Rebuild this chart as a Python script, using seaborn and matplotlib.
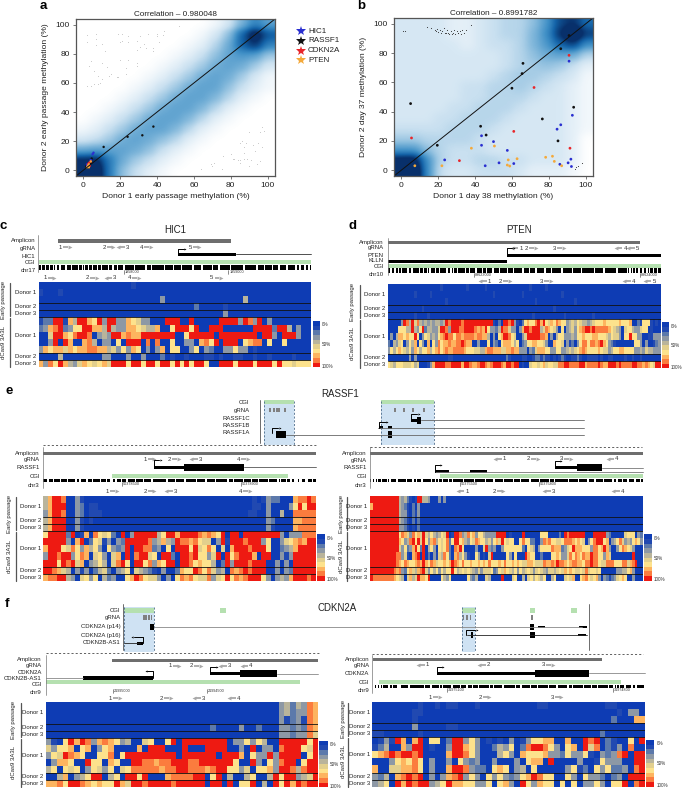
import numpy as np
import pandas as pd
import seaborn as sns
import matplotlib.pyplot as plt
from matplotlib.colors import ListedColormap

sns.set_theme(style="ticks")
plt.rcParams['font.family'] = ['Liberation Sans', 'DejaVu Sans']

W, H = 685, 788

dens_a = [
    [0,0,0,0,0,0,0,0,0,0,1,3,8,13,10],
    [0,0,0,0,0,0,0,0,0,1,3,7,16,24,17],
    [0,0,0,0,0,0,0,0,1,2,5,9,16,20,13],
    [0,0,0,0,0,0,0,1,2,4,7,10,11,10,6],
    [0,0,0,0,0,0,1,2,4,6,9,10,9,6,3],
    [0,0,0,0,0,1,2,4,6,9,10,9,6,3,1],
    [0,0,0,0,1,2,4,6,9,10,10,7,4,2,1],
    [0,0,0,1,2,4,6,9,10,10,8,5,2,1,0],
    [0,0,1,2,4,6,9,10,10,8,5,2,1,0,0],
    [0,1,2,4,6,9,10,10,8,5,2,1,0,0,0],
    [1,2,4,6,9,10,10,8,5,2,1,0,0,0,0],
    [3,4,6,9,10,9,7,5,2,1,0,0,0,0,0],
    [9,10,10,10,9,7,4,2,1,0,0,0,0,0,0],
    [21,22,14,9,6,4,2,1,0,0,0,0,0,0,0],
    [24,25,14,7,4,2,1,0,0,0,0,0,0,0,0],
]
dens_b = [
    [3,3,3,3,2,2,3,4,5,5,7,11,18,20,15],
    [3,3,3,3,2,2,3,4,5,5,8,12,20,27,19],
    [3,3,3,3,3,2,3,4,4,5,8,11,16,19,12],
    [3,3,3,3,3,3,3,3,4,5,7,9,10,9,5],
    [3,3,3,3,3,3,3,3,4,5,6,7,6,4,2],
    [3,3,3,3,3,3,3,4,5,6,6,5,4,3,1],
    [3,3,3,3,3,4,4,5,5,6,5,4,3,2,1],
    [3,3,3,3,3,4,4,5,5,5,4,3,3,2,1],
    [3,3,3,3,4,4,5,5,5,4,3,3,3,2,1],
    [3,3,3,4,4,5,5,5,4,3,3,3,3,2,1],
    [4,4,4,4,5,5,5,4,3,3,3,3,3,2,1],
    [6,6,5,5,5,5,4,3,3,3,3,3,3,2,0],
    [11,11,7,5,4,4,4,3,3,3,3,3,3,2,0],
    [22,23,12,5,4,4,5,5,4,4,3,3,3,2,0],
    [26,27,12,4,3,3,4,4,4,3,2,2,2,1,0],
]

# scatter points, panel a
a_sparse_x = [2,2,7,7,7,10,12,19,21,24,21,20,24,29,31,35,40,40,43,44,52,41,31,34,33,38,38,29,20,24,10,4,3,29,29,6,8,15,14,18,19,13,23,23,10,2,4,6,8,9,
              64,69,70,71,75,76,80,81,82,84,85,85,85,86,87,87,87,88,89,90,90,91,92,93,94,95,96,96,97,97,98]
a_sparse_y = [93,88,94,90,86,87,82,94,94,92,89,88,88,89,92,94,94,92,93,96,99,88,85,84,87,84,82,83,76,76,74,75,72,74,72,68,65,66,65,64,64,71,70,66,63,58,58,59,59,60,
              1,4,3,5,1,10,11,8,8,7,7,5,19,20,16,12,8,19,8,3,26,7,17,13,4,19,6,26,16,30,27]
a_gene = ['RASSF1']*11 + ['HIC1']*6 + ['CDKN2A']*4 + ['PTEN']*5
a_x = [11,24,32,38,2,3,1.5,2.5,4,4.5,3, 5,5.5,4,2,3,2, 3,3.5,4,2.5, 2.5,3,3,4,2]
a_y = [16,23,24,30,3,4,2.5,2,5,8,5, 11,12,7,4,5,3, 5,3,6,4, 3,4,2,6,2]

# scatter points, panel b
b_sparse_x = [1,2,14,16,18,19,19.5,20,21,21.5,22,23,23.5,24,25,25.5,26,27,27.5,28,28.5,29,30,30.5,31,32,32.5,33,34,35,38,95,96,98,94]
b_sparse_y = [95,95,98,97,96,95,96.5,94.5,96,94,95,97,94,93.5,96,94,93,95,93,94,96,93,95,93.5,94,95,93,96,94,96,99,2,3,5,1]
b_gene = ['RASSF1']*12 + ['HIC1']*16 + ['CDKN2A']*6 + ['PTEN']*12
b_x = [5,19.5,43,46,60,65.5,66,76.5,86.5,91,85,93.5,
       23.5,43.5,43.5,50,45.5,53,57.5,61,84.5,86.5,92.8,91,90.5,92,86,92.3,
       5.5,31.5,61,72,91,91.5,
       7.3,22,38,50.5,57.5,58,58.8,62.8,78.3,82,83,87]
b_y = [45.5,17,30,24,56,66,73,35,83,92,20,43,
       7,23.5,17,19.5,3,5,13.5,4.5,28,31,37.5,74.5,5,7.5,4,2.5,
       22,6.5,26.5,56.5,78.5,15,
       3,3,15,16.5,3.5,7,2.8,7.8,8.8,9.5,6,3]

gene_names = ['HIC1', 'RASSF1', 'CDKN2A', 'PTEN']
gene_cols = {'HIC1': '#2a2fd0', 'RASSF1': '#111111', 'CDKN2A': '#e8262a', 'PTEN': '#f4a93a'}

# methylation per CpG, one digit per cell (0 = 0%, 9 = 100%)
hic1_rows = [
    "0000000000 0000000001 0000000000 0000000000 0000000000 000000",
    "1000100000 0000000000 0000000000 0000000000 0000000000 000000",
    "0000000000 0000000000 0000030000 0000000000 0040000000 000000",
    "0000000000 0000000000 0000000000 0020000010 0000000000 000000",
    "0000000000 0000000000 0000000000 0000000030 0000000000 000000",
    "1229917499 7693993376 5330009990 0900000999 9398390300 000000",
    "2378923669 9774943377 6544700699 9690099900 0000999929 940300",
    "0059976899 8034399787 7999999900 6999990999 9999909930 999300",
    "0039097007 8403306099 9080800600 3307869099 9067880600 600000",
    "3767757677 8877453637 6030370660 0360320033 6330100000 000000",
    "0000400000 0003300030 0300020100 1000110100 1100100100 001000",
    "7386974357 6567599969 9699699696 9699600999 6999699969 665666",
]
pten_rows = [
    "0000000000 0000000000 1000000000 1000000100 0000000000 0000100000 1000000000 0000000000 0",
    "0000000000 1000001000 0000000000 0000000000 1000000000 0100000000 0000001000 0000000000 0",
    "0000000000 0000000000 0010000000 0000000000 0000000000 0000001000 0000000000 0100000000 0",
    "0000000000 0001000000 0000000000 0000000000 0000000000 0000000000 0001000000 0000000000 0",
    "0000000000 1000010000 0000000000 0000000000 0000000000 0000010000 0000000100 0000000010 0",
    "0000039849 5843434344 3498999989 9999999999 1020998931 0267668979 6576876634 5465443456 6676666676 6670021666 1010",
    "0000666449 4369244335 9983999889 9998787963 3249885330 3799899945 8765306034 5367899898 8888765430 5664335660 1000",
    "0304776766 9603653436 7898868878 8887887740 3067998650 0359999988 7030466333 4366766677 6665465530 6696633001 1333",
    "2043560364 7063070638 6778778898 7700300060 3206777646 0236677665 3007665031 2036886887 8976321000 0000663030 0123",
    "3646765463 7646674678 6787788887 6665544788 7775577877 3330325777 6633663345 4567876666 7655346677 6666334354 4333",
    "0000000030 3000000000 0001100000 0000000000 0000021000 0110012212 1101012100 1121001111 0100110000 1001001000 0000",
    "6546665556 4500013799 9988999979 9877899878 9998799899 0100566567 5665588998 8889978888 9877999898 8889988787 6599",
]
rassf_l_rows = [
    "4799800310 0000000000 0000000000 0000000000 0000001013 2200078898",
    "4799900320 1100000000 0000000000 0000000000 0000001103 0000369699",
    "3799800320 1110000000 0000000000 0000000000 0000011003 0040088888",
    "4799900310 1000000000 0000000000 0000000000 0000000003 2000077888",
    "4799900310 0000000000 0000000000 0000000000 0000000003 1000078888",
    "6999929017 0865620903 9999946997 9999878769 0990999999 9930333888",
    "9999930790 2651303299 9998347439 8878655039 1999899936 0035678799",
    "7999658637 4630632390 9988230609 9969568605 0799989996 0023479999",
    "3998993687 0563057090 8995609920 9989663590 9689997099 0031399999",
    "9996989570 3464058960 9968376990 9986766402 9399989990 0303099999",
    "9987540313 0245203460 5432103002 7669868534 0878989990 0303299999",
    "7889943056 3604230067 9865530306 8786558356 9687899963 0343799989",
]
rassf_r_rows = [
    "9999999999 9434210199 4430003030 0",
    "7999999999 9432102030 0",
    "9999999999 9433102130 0",
    "9999999999 9432102020 0",
    "9999999999 9332101020 0",
    "9999999999 9687538675 9546434659 0199834867 3664333399 9901000090 0000066600 0020989999 9900099999 3200000566 6032",
    "9999999999 9763489695 9637846568 2699674365 8766453675 9656600686 6220038786 6556888767 6503689996 7034685343 6763",
    "9999999999 9536237962 9046306568 2087960000 3005932300 3666666620 6540366668 7772356977 7666388679 7300368765 3000",
    "9999999999 8835107890 9020315486 2078463100 6301059000 0063060009 7660020006 6763358687 6877988663 7500000000 9000",
    "9999999999 8768766787 9768756676 7987686676 6767686667 6866767655 7765558778 7988767887 7688988655 8886668857 8900",
    "9999999998 7832675478 9536463646 6964565654 3535556236 5765463645 6535654355 4565767655 6585665600 0000334467 3000",
    "9888888887 6540574597 7690000643 6000000632 4000540000 9000560040 5646546004 6000565700 6786567303 2123567600 3000",
]
cdkn_l_rows = [
    "0000000000 0000000000 0000000000 0000000000 03424387",
    "0000000000 0000000000 0000000000 0000000000 03423387",
    "0000000000 0000000000 0000000000 0000000000 03123187",
    "0000000000 0000000000 0000000002 0000300200 03323287",
    "0000000000 0000000000 0000000000 0000000000 03323385",
    "3106979837 8763400560 0690999999 9903363640 09999969",
    "5366706703 6700007099 9000900099 9900309033 08999659",
    "3659876006 6806999999 9990999999 0999706339 39999069",
    "0377600966 0760099887 8899988999 9996009306 38990699",
    "4606560365 3605688888 7889988878 9966350667 39984899",
    "0047034699 0460996900 0788889906 9040046004 96993459",
    "7786998767 6697599899 9989999909 9090669040 96979899",
]
cdkn_r_rows = [
    "0000000010 0101100010 0000000001 1000000000 01100000",
    "0000000110 0000000000 0000000000 0000000000 00010330",
    "0000000100 0000000000 0000000000 0000000000 00200077",
    "0000000300 0001100000 0000000000 0000000000 00000000",
    "1100000010 0000000000 0000000000 0000000000 20000000",
    "0131970790 6602993630 1010301366 7700700989 02100609",
    "1240073990 1003997630 0243602899 8630670958 02130800",
    "6789899890 0007998630 0046307666 7332633610 32389099",
    "0003676860 3003063230 0300030677 0900003001 63330099",
    "7005577860 3007998322 0676034060 0000361206 36223089",
    "3240789890 3037893630 6363236798 6600630633 20230999",
    "3460979899 3469776633 6067309637 6606060336 30669089",
]

# CpG barcodes under the gene models
hic1_cpg = ("1101101101101011011100111011110110101101101110110111101100110111101111111011111111011101111111110"
            "1111110111110111111110111111011111110111101111111101111111110111111111011111011111011110111110111111011011101101")
pten_cpg = ("1101101101011110110111110110110101110110111110110101101111101101111011110110111101111011111011110"
            "1111110111101111011111101111011111110111111101111110111111111011111101111111110111111101010101101101101011011011")
rassf_l_cpg = ("1110111011110111101111101101111011101111101110110011011101110111110111110111110111111111101111101"
               "1111101111111011111101111110111111110111011111101111101111011111101111110101110110010001001100111011")
rassf_r_cpg = ("1010101101110101111011111101110010111011111101101011011101101111111011111110111111101111101111110"
               "1111110111101111110111111011111101110111111111011111101111110111101111101111110110111011101111011101")
cdkn_r_cpg = ("0010101011100101110001111101111111111011110111110101111110111110111101110111011111110110111111011"
              "1111110111011111101111011111110111110111111101101111111011111011101111111011101010111011110110111110")

# guides: label, position in % of the track, direction
hic1_guides_top = [('1', 8, 1), ('2', 24, 1), ('3', 32.7, -1), ('4', 37.8, 1), ('5', 55.6, 1)]
hic1_guides_low = [('1', 2.4, 1), ('2', 18, 1), ('3', 28, -1), ('4', 33.4, 1), ('5', 63.6, 1)]
pten_guides_top = [('1', 48.9, -1), ('2', 50.9, 1), ('3', 61, 1), ('4', 87, -1), ('5', 91.6, -1)]
pten_guides_low = [('1', 37.2, -1), ('2', 41.4, 1), ('3', 56.4, 1), ('4', 90, -1), ('5', 97.6, -1)]
rassf_l_guides_top = [('1', 37.3, 1), ('2', 46.3, 1), ('3', 57.7, -1), ('4', 71.6, 1)]
rassf_l_guides_low = [('1', 23.6, 1), ('2', 37.3, 1), ('3', 48.4, -1), ('4', 72.4, 1)]
rassf_r_guides_top = [('1', 49.3, -1), ('2', 58.2, 1), ('3', 70.3, 1), ('4', 90.5, -1)]
rassf_r_guides_low = [('1', 35.5, -1), ('2', 45.5, 1), ('3', 67.2, -1), ('4', 92.5, -1)]
cdkn_l_guides_top = [('1', 45.6, 1), ('2', 53.5, 1), ('3', 67.4, -1), ('4', 75.3, -1)]
cdkn_l_guides_low = [('1', 23.8, 1), ('2', 42.4, 1), ('3', 57.8, -1), ('4', 70.7, -1)]
cdkn_r_guides_top = [('1', 20.2, -1), ('2', 42.7, -1), ('3', 62.7, 1)]
cdkn_r_guides_low = [('1', 21.4, 1), ('2', 39.5, 1), ('3', 65.9, 1)]

donor_labels = [('Donor 1', 1.5), ('Donor 2', 3.5), ('Donor 3', 4.5),
                ('Donor 1', 7.5), ('Donor 2', 10.5), ('Donor 3', 11.5)]

levels = ['#0e3cb4', '#2149b1', '#5c79ab', '#8d98a5', '#b9b49b', '#e2cf8d',
          '#fde28c', '#fdb45f', '#fb7c3e', '#ee1a12']
meth_cmap = ListedColormap(levels)
dens_cmap = sns.blend_palette(['#ffffff', '#c9e0f0', '#7fb6da', '#3f8fc6', '#1463a8', '#08306b'], as_cmap=True)
GREEN = '#b5e0b0'
BOX_BLUE = '#cfe2f3'

fig = plt.figure(figsize=(W / 100, H / 100), dpi=100)


def px_axes(x0, y0, x1, y1):
    return fig.add_axes([x0 / W, 1 - y1 / H, (x1 - x0) / W, (y1 - y0) / H])


def scatter_panel(box, dens, sx, sy, gx, gy, genes, title, xl, yl, pt, sparse_s):
    ax = px_axes(*box)
    ax.imshow(dens, extent=(-4, 104, -4, 104), aspect='auto', cmap=dens_cmap,
              vmin=0, vmax=20, interpolation='gaussian')
    sns.scatterplot(x=sx, y=sy, ax=ax, color='#333333', s=sparse_s, linewidth=0, legend=False)
    pts = pd.DataFrame({'x': gx, 'y': gy, 'gene': genes})
    sns.scatterplot(data=pts, x='x', y='y', hue='gene', hue_order=gene_names, palette=gene_cols,
                    ax=ax, s=pt, linewidth=0, legend=False)
    ax.plot([-4, 104], [-4, 104], color='#111111', lw=0.7)
    ax.set_xlim(-4, 104)
    ax.set_ylim(-4, 104)
    ax.set_xticks(range(0, 101, 20))
    ax.set_yticks(range(0, 101, 20))
    ax.tick_params(labelsize=6, length=2.5, width=0.5, pad=2, color='#444444', labelcolor='#222222')
    ax.set_xlabel(xl, fontsize=6.1, labelpad=2.5, color='#222222')
    ax.set_ylabel(yl, fontsize=6.1, labelpad=4.5, color='#222222')
    ax.set_title(title, fontsize=5.9, pad=2.5, color='#222222')
    for s in ax.spines.values():
        s.set_linewidth(0.9)
        s.set_color('#555555')
        s.set_visible(True)
    return ax


scatter_panel((76, 19, 275, 176), dens_a, a_sparse_x, a_sparse_y, a_x, a_y, a_gene,
              'Correlation – 0.980048', 'Donor 1 early passage methylation (%)',
              'Donor 2 early passage methylation (%)', 3, 0.3)
scatter_panel((394, 18, 593, 176), dens_b, b_sparse_x, b_sparse_y, b_x, b_y, b_gene,
              'Correlation – 0.8991782', 'Donor 1 day 38 methylation (%)',
              'Donor 2 day 37 methylation (%)', 4, 0.6)

# overlay in pixel units, for labels and frames
page = fig.add_axes([0, 0, 1, 1], zorder=5)
page.set_xlim(0, W)
page.set_ylim(H, 0)
page.axis('off')


def label(x, y, s, size=4.3, ha='right', rot=0, **kw):
    page.text(x, y, s, fontsize=size, ha=ha, va='center', rotation=rot, color=kw.pop('color', '#222222'), **kw)


for s, x, y in [('a', 43, 6), ('b', 361, 6), ('c', 3, 226), ('d', 353, 226), ('e', 9, 391), ('f', 7, 604)]:
    label(x, y, s, size=9.5, ha='center', fontweight='bold', color='black')
for s, x, y in [('HIC1', 175, 230), ('PTEN', 519, 230), ('RASSF1', 340, 394), ('CDKN2A', 337, 608)]:
    label(x, y, s, size=7, ha='center')

for name, y in zip(gene_names, [31, 40.5, 50.5, 60]):
    page.plot([301], [y], marker='*', ms=7, color=gene_cols[name], mew=0)
    label(308, y, name, size=5.8, ha='left')


def matrix(rows, n):
    rows = [r.replace(' ', '') for r in rows]
    return np.array([[int(c) for c in r.ljust(n, r[-1])[:n]] for r in rows])


def meth_heatmap(rows, n, box, cbar_box, bar_dx=28, text_dx=35):
    ax = px_axes(*box)
    cax = px_axes(*cbar_box)
    sns.heatmap(matrix(rows, n), ax=ax, cmap=meth_cmap, vmin=-0.5, vmax=9.5, cbar_ax=cax,
                xticklabels=False, yticklabels=False, linewidths=0)
    cax.set_yticks([0.2, 4.5, 9.2])
    cax.set_yticklabels(['0%', '50%', '100%'], fontsize=3.3, color='#333333')
    cax.tick_params(length=0, pad=1.5)
    cax.invert_yaxis()
    ax.collections[0].colorbar.outline.set_visible(False)
    for r in [3, 4, 5, 10, 11]:
        ax.axhline(r, color='#111111', lw=0.6)
    x0, y0, x1, y1 = box
    rh = (y1 - y0) / 12
    for s, r in donor_labels:
        label(x0 - 2.5, y0 + r * rh, s)
    page.plot([x0 - bar_dx, x0 - bar_dx], [y0 + 1, y0 + 5 * rh - 1], color='#555555', lw=0.9)
    page.plot([x0 - bar_dx, x0 - bar_dx], [y0 + 5 * rh + 1, y1], color='#555555', lw=0.9)
    label(x0 - text_dx, y0 + 2.5 * rh, 'Early passage', ha='center', rot=90)
    label(x0 - text_dx, y0 + 8.5 * rh, 'dCas9 3A3L', ha='center', rot=90)


def track_axes(x0, x1):
    tr = fig.add_axes([x0 / W, 0, (x1 - x0) / W, 1], zorder=4)
    tr.set_xlim(0, 100)
    tr.set_ylim(H, 0)
    tr.axis('off')
    return tr


def guides(tr, items, y):
    for s, x, d in items:
        tr.text(x, y, s, fontsize=4.3, ha='center', va='center', color='#333333')
        tr.plot([x + d * 1.0, x + d * 2.8], [y, y], color='#a8a8a8', lw=1.3, clip_on=False, solid_capstyle='butt')
        tr.plot([x + d * 3.4], [y], marker='>' if d > 0 else '<', ms=2.8, color='#a8a8a8', mew=0, clip_on=False)


def span(tr, a, b, y, h, color='black'):
    tr.barh(y, b - a, left=a, height=h, color=color, linewidth=0, clip_on=False)


def tss(tr, x, y, d, up=5.5, color='black'):
    tr.plot([x, x, x + d * 2.0], [y, y - up, y - up], color=color, lw=0.7, clip_on=False)
    tr.plot([x + d * 2.4], [y - up], marker='>' if d > 0 else '<', ms=1.5, color=color, mew=0, clip_on=False)


def hline(tr, a, b, y, color='#555555', lw=0.6):
    tr.plot([a, b], [y, y], color=color, lw=lw, clip_on=False)


def barcode(bits, x0, x1, y0, y1):
    ax = px_axes(x0, y0, x1, y1)
    sns.heatmap([[int(c) for c in bits]], ax=ax, cmap=['white', 'black'], vmin=0, vmax=1, cbar=False,
                xticklabels=False, yticklabels=False)


def coord(tr, x, y, s):
    tr.plot([x, x], [y, y + 4], color='#333333', lw=0.4, clip_on=False)
    tr.text(x + 0.3, y + 2, s, fontsize=2.7, ha='left', va='center', color='#333333')


def track_labels(x, items):
    for s, y in items:
        label(x, y, s)


def left_rule(x, y0, y1):
    page.plot([x, x], [y0, y1], color='#777777', lw=0.5)


# c: HIC1
x0, x1 = 38.5, 311
meth_heatmap(hic1_rows, 56, (x0, 281.7, x1, 367.3), (313, 321, 320, 367.3))
tr = track_axes(x0, x1)
span(tr, 7, 70.5, 241, 3.2, '#6e6e6e')
guides(tr, hic1_guides_top, 247.3)
span(tr, 51.3, 72.4, 254.3, 3)
hline(tr, 72.4, 100, 254.3, '#333333')
tss(tr, 51.3, 254.3, 1)
span(tr, 0, 100, 262.3, 3.8, GREEN)
barcode(hic1_cpg, x0, x1, 265.3, 270)
coord(tr, 31.4, 270, '1958000')
coord(tr, 69.7, 270, '1959000')
guides(tr, hic1_guides_low, 277.7)
track_labels(35.5, [('Amplicon', 240.5), ('gRNA', 248), ('HIC1', 256), ('CGI', 263), ('chr17', 271)])
left_rule(x0, 235, 272)

# d: PTEN
x0, x1 = 387.7, 660.7
meth_heatmap(pten_rows, 104, (x0, 284, x1, 368.3), (661.7, 322.3, 669, 368.3))
tr = track_axes(x0, x1)
span(tr, 0, 92.4, 242.7, 3, '#6e6e6e')
guides(tr, pten_guides_top, 248.3)
span(tr, 43.7, 100, 255.3, 3)
tss(tr, 43.7, 255.3, 1, up=7)
span(tr, 0, 43.7, 261, 3)
span(tr, 0, 100, 266, 3.8, GREEN)
barcode(pten_cpg, x0, x1, 268.5, 272.5)
coord(tr, 31.7, 273, '89623000')
coord(tr, 92.4, 273, '89624000')
guides(tr, pten_guides_low, 281)
track_labels(384, [('Amplicon', 242), ('gRNA', 247.5), ('PTEN', 255), ('KLLN', 261), ('CGI', 267), ('chr10', 274)])
left_rule(x0, 238, 275)

# e left: RASSF1 first region
x0, x1 = 43.3, 316
meth_heatmap(rassf_l_rows, 60, (x0, 496, x1, 580.7), (317, 534.3, 325, 580.7), 27, 34)
tr = track_axes(x0, x1)
span(tr, 0, 100, 453.7, 3, '#6e6e6e')
guides(tr, rassf_l_guides_top, 459.3)
hline(tr, 73.6, 100, 467.3)
span(tr, 40.6, 51.6, 467.3, 3)
span(tr, 51.6, 73.6, 467.3, 6.5)
tss(tr, 40.6, 467.3, 1, up=7)
span(tr, 25.2, 89.6, 475.7, 3.8, GREEN)
barcode(rassf_l_cpg, x0, x1, 478.5, 482.3)
coord(tr, 28.7, 482.3, '50378500')
coord(tr, 72.4, 482.3, '50378900')
guides(tr, rassf_l_guides_low, 491.3)
track_labels(40, [('Amplicon', 453.7), ('gRNA', 459.7), ('RASSF1', 467.3), ('CGI', 476), ('chr3', 485)])
left_rule(x0, 447, 488)

# e right: RASSF1 second region
x0, x1 = 370, 642.7
meth_heatmap(rassf_r_rows, 104, (x0, 496, x1, 580.7), (644, 534.3, 651.7, 580.7), 23, 28)
tr = track_axes(x0, x1)
span(tr, 0, 100, 453.7, 3, '#6e6e6e')
guides(tr, rassf_r_guides_top, 458.7)
hline(tr, 85, 100, 467.6, '#777777')
hline(tr, 23.8, 100, 471.7, '#777777')
span(tr, 23.8, 29.1, 471.7, 3.5)
span(tr, 36.5, 42.8, 471.7, 3.5)
tss(tr, 23.8, 471.7, 1, up=7)
span(tr, 67.8, 76, 467.6, 3)
span(tr, 76, 85, 467.6, 7)
tss(tr, 67.8, 467.6, 1, up=7)
span(tr, 25.7, 100, 476, 3.8, GREEN)
barcode(rassf_r_cpg, x0, x1, 478.5, 482.3)
coord(tr, 33, 482.3, '50375500')
coord(tr, 61.9, 482.3, '50375800')
guides(tr, rassf_r_guides_low, 491.3)
track_labels(367, [('Amplicon', 453.7), ('gRNA', 460), ('RASSF1', 467.3), ('CGI', 476), ('chr3', 485)])
left_rule(x0, 447, 488)

# e top: whole RASSF1 locus
tr = track_axes(260.3, 584)
for a, b in [(1.2, 10.3), (37.4, 53.8)]:
    span(tr, a, b, 423, 44, BOX_BLUE)
    span(tr, a, b, 402, 4, GREEN)
    for x in (a, b):
        tr.plot([x, x], [401, 445], color='#4a6a8a', lw=0.6, ls=(0, (2.5, 2)))
for x in [3, 4.3, 5.1, 5.9, 7.7, 41.5, 44.3, 47.1, 50.6]:
    span(tr, x - 0.3, x + 0.3, 410, 4, '#808080')
hline(tr, 8, 100, 434.5, '#666666')
span(tr, 4.9, 8, 434.5, 6.5)
tss(tr, 3.6, 433, 1, up=5)
span(tr, 39.4, 40.7, 434.5, 6.5)
hline(tr, 36.4, 100, 427.7, '#666666')
span(tr, 36.7, 38, 427.7, 2.5)
span(tr, 39.4, 40.7, 427.7, 2.5)
tss(tr, 36.7, 427.7, 1, up=6)
hline(tr, 49.7, 100, 420.3, '#666666')
span(tr, 46.5, 48.5, 420.3, 3)
span(tr, 48.5, 49.7, 420.3, 6.5)
tss(tr, 46.5, 420.3, 1, up=6)
track_labels(249.7, [('CGI', 402.7), ('gRNA', 410), ('RASSF1C', 418), ('RASSF1B', 425), ('RASSF1A', 432)])
page.plot([260.3, 260.3], [400, 443], color='#555555', lw=0.6)
page.plot([43, 316], [445, 445], color='#222222', lw=0.5, ls=(0, (3, 3)))
page.plot([370, 642], [446.7, 446.7], color='#222222', lw=0.5, ls=(0, (3, 3)))

# f left: CDKN2A first region
x0, x1 = 45.7, 318.3
meth_heatmap(cdkn_l_rows, 48, (x0, 702.3, x1, 787.3), (319, 740.7, 328, 787.3), 25, 32)
tr = track_axes(x0, x1)
span(tr, 24.4, 100, 660, 3, '#6e6e6e')
guides(tr, cdkn_l_guides_top, 665.7)
hline(tr, 84.7, 100, 673.7, '#888888')
span(tr, 60.4, 71.3, 673.7, 3.5)
span(tr, 71.3, 84.7, 673.7, 6.5)
tss(tr, 60.4, 673.7, 1, up=7)
hline(tr, 0, 13.8, 678.3, '#888888')
span(tr, 13.8, 39.2, 678, 3.5)
tss(tr, 39.2, 678, -1, up=7)
span(tr, 0, 93.3, 682.3, 4, GREEN)
coord(tr, 24.6, 689, '21995000')
coord(tr, 59.3, 689, '21994500')
guides(tr, cdkn_l_guides_low, 698)
track_labels(42, [('Amplicon', 660), ('gRNA', 666), ('CDKN2A', 673), ('CDKN2B-AS1', 678.5), ('CGI', 684), ('chr9', 692.5)])
left_rule(x0, 655, 695)

# f right: CDKN2A second region
x0, x1 = 372.3, 645
meth_heatmap(cdkn_r_rows, 48, (x0, 701.7, x1, 786.7), (645.7, 740, 654.3, 786.7), 24, 29)
tr = track_axes(x0, x1)
span(tr, 0.4, 84.4, 659.3, 3, '#6e6e6e')
guides(tr, cdkn_r_guides_top, 665)
hline(tr, 79.5, 100, 673.3, '#888888')
span(tr, 23.6, 59.7, 673.3, 3)
span(tr, 59.7, 79.5, 673.3, 6.5)
tss(tr, 23.6, 673.3, 1, up=6.5)
span(tr, 2.4, 91.2, 682, 4, GREEN)
barcode(cdkn_r_cpg, x0, x1, 684.5, 688)
coord(tr, 27.5, 688, '31975100')
coord(tr, 88.4, 688, '31974800')
guides(tr, cdkn_r_guides_low, 697.3)
track_labels(369.5, [('Amplicon', 659), ('gRNA', 665.5), ('CDKN2A', 673.5), ('CGI', 682), ('chr9', 690.5)])
left_rule(x0, 655, 693)

# f top: whole CDKN2A locus
tr = track_axes(122.7, 589.3)
for a, b in [(0.3, 6.8), (72.7, 75.5)]:
    span(tr, a, b, 629.5, 45, BOX_BLUE)
    for x in (a, b):
        tr.plot([x, x], [607, 652], color='#4a6a8a', lw=0.6, ls=(0, (2.5, 2)))
for a, b in [(0.3, 6.8), (20.9, 22.1), (72.7, 75.5), (87.3, 88.3), (96, 97.3)]:
    span(tr, a, b, 610, 5, GREEN)
for x in [4.6, 5.0, 5.6, 6.2, 73.1, 73.8, 74.6, 87.7]:
    span(tr, x - 0.15, x + 0.15, 617, 5, '#808080')
hline(tr, 6.8, 98.4, 627, '#888888')
span(tr, 5.9, 6.8, 627, 6)
span(tr, 87.3, 88.2, 627, 6)
span(tr, 89, 90.5, 627, 2.5)
span(tr, 97.7, 99.4, 627, 2.5)
hline(tr, 73.7, 99.4, 635, '#222222')
span(tr, 74.6, 75, 635, 6)
span(tr, 87.3, 88.3, 635, 6)
span(tr, 97.6, 99.3, 635, 2.5)
tss(tr, 73.5, 635, 1, up=5)
hline(tr, 0.3, 3.7, 643, '#222222')
span(tr, 3.1, 4.4, 643, 3)
tss(tr, 4.4, 643, -1, up=6)
track_labels(120.7, [('CGI', 610.3), ('gRNA', 617), ('CDKN2A (p14)', 626.7), ('CDKN2A (p16)', 635), ('CDKN2B-AS1', 643)])
page.plot([122.7, 122.7], [604, 650], color='#555555', lw=0.6)
page.plot([589.3, 589.3], [604, 650], color='#555555', lw=0.6)
page.plot([46, 320], [653.3, 653.3], color='#222222', lw=0.5, ls=(0, (3, 3)))
page.plot([372, 643], [654.3, 654.3], color='#222222', lw=0.5, ls=(0, (3, 3)))

fig.savefig('out.png', dpi=100)
